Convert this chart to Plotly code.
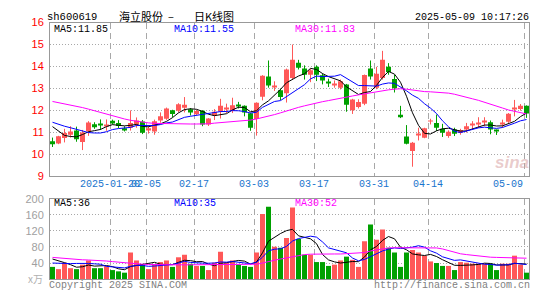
import plotly.graph_objects as go
import pandas as pd

W, H = 545, 300

# ---------------- data ----------------
opens = [10.58, 10.48, 10.73, 10.88, 11.07, 10.55, 11.04, 11.36, 11.33, 11.28,
         11.52, 11.42, 11.18, 11.20, 11.35, 11.48, 11.10, 11.03, 11.53, 11.61,
         12.00, 11.97, 12.11, 12.04, 11.82, 11.98, 11.35, 11.76, 11.94, 12.07,
         11.98, 12.25, 12.20, 11.86, 11.60, 12.62, 13.54, 13.07, 12.91, 12.77,
         13.47, 14.17, 13.90, 13.62, 13.98, 13.60, 13.26, 13.14, 13.03, 13.17,
         12.00, 12.15, 12.30, 13.90, 13.03, 13.47, 13.98, 13.42, 11.79, 10.80,
         10.14, 10.85, 10.74, 11.48, 11.42, 11.15, 10.82, 11.12, 10.97, 11.12,
         11.33, 11.38, 11.46, 11.45, 11.06, 11.37, 11.47, 12.04, 12.05, 12.20]
highs = [10.75, 10.83, 11.15, 11.27, 11.25, 11.10, 11.50, 11.45, 11.58, 11.58,
         11.57, 11.55, 11.27, 11.99, 11.67, 11.55, 11.28, 11.57, 11.90, 12.12,
         12.02, 12.32, 12.60, 12.10, 12.02, 12.00, 11.64, 12.05, 12.52, 12.30,
         12.57, 12.38, 12.22, 11.88, 12.36, 13.60, 14.27, 13.32, 12.99, 13.90,
         15.00, 14.30, 14.05, 13.90, 14.05, 13.68, 13.44, 13.36, 13.40, 13.20,
         12.52, 12.50, 13.63, 14.27, 13.98, 14.71, 14.15, 13.61, 12.20, 11.32,
         10.55, 11.20, 11.20, 11.61, 11.80, 11.38, 11.08, 11.20, 11.15, 11.42,
         11.50, 11.68, 11.68, 11.53, 11.12, 11.57, 11.87, 12.47, 12.28, 12.22]
lows = [10.32, 10.45, 10.53, 10.75, 10.56, 10.18, 10.83, 11.15, 11.10, 11.06,
        11.35, 11.18, 11.03, 11.07, 11.20, 10.91, 10.93, 10.88, 11.43, 11.56,
        11.68, 11.90, 11.90, 11.76, 11.78, 11.27, 11.28, 11.55, 11.62, 11.87,
        11.87, 12.08, 11.72, 11.06, 10.84, 12.45, 13.03, 12.88, 12.46, 12.35,
        13.40, 13.86, 13.40, 13.28, 13.33, 13.18, 13.06, 13.03, 12.95, 11.93,
        11.83, 12.08, 12.23, 13.40, 12.96, 13.40, 13.62, 12.81, 11.64, 10.44,
        9.42, 10.62, 10.72, 11.35, 11.05, 10.78, 10.74, 10.82, 10.88, 10.98,
        11.12, 11.20, 11.27, 10.90, 10.87, 11.20, 11.42, 11.72, 11.98, 11.65]
closes = [10.45, 10.81, 10.96, 11.03, 10.67, 10.98, 11.44, 11.22, 11.30, 11.32,
          11.43, 11.28, 11.10, 11.42, 11.53, 10.97, 11.18, 11.50, 11.72, 12.08,
          11.83, 12.27, 12.25, 11.90, 11.96, 11.35, 11.62, 11.93, 12.20, 12.10,
          12.23, 12.21, 11.90, 11.20, 12.34, 13.57, 13.13, 13.11, 12.60, 13.86,
          14.30, 13.94, 13.62, 13.83, 13.62, 13.36, 13.24, 13.16, 13.32, 12.25,
          12.49, 12.37, 13.61, 13.54, 13.66, 14.30, 13.74, 13.00, 11.68, 10.47,
          10.52, 10.88, 11.18, 11.52, 11.20, 10.97, 11.02, 10.93, 11.10, 11.27,
          11.36, 11.40, 11.48, 11.12, 11.04, 11.39, 11.84, 12.07, 12.20, 11.85]
volumes = [30.4, 24.8, 40.8, 27.2, 24.8, 36.0, 46.4, 27.2, 27.2, 32.0,
           22.5, 19.3, 16.0, 66.2, 46.4, 36.0, 24.8, 35.2, 42.4, 46.4,
           30.4, 54.3, 60.7, 38.0, 32.8, 32.8, 22.5, 40.8, 67.9, 40.8,
           46.4, 36.0, 32.8, 30.4, 66.2, 161.8, 180.2, 80.5, 78.2, 102.0,
           177.8, 99.7, 60.7, 60.7, 42.4, 42.4, 32.8, 36.0, 46.4, 55.9,
           48.0, 30.4, 94.1, 135.5, 98.0, 123.5, 78.2, 66.2, 30.4, 66.2,
           72.6, 66.2, 58.3, 44.0, 40.0, 32.8, 32.8, 22.5, 42.4, 40.8,
           38.4, 38.4, 38.4, 38.4, 22.5, 38.4, 38.4, 58.3, 36.0, 16.0]

# moving-average values before enough in-window history exists
ma5_head = [11.25, 11.05, 10.85, 10.80]
ma10_head = [11.45, 11.35, 11.27, 11.20, 11.12, 11.04, 10.98, 10.96, 10.96]
ma30 = [12.40, 12.35, 12.30, 12.25, 12.19, 12.12, 12.05, 11.97, 11.90, 11.82,
        11.74, 11.66, 11.60, 11.54, 11.49, 11.45, 11.42, 11.40, 11.39, 11.38,
        11.38, 11.38, 11.38, 11.37, 11.37, 11.36, 11.38, 11.41, 11.43, 11.45,
        11.47, 11.49, 11.51, 11.55, 11.60, 11.66, 11.72, 11.80, 11.88, 11.97,
        12.05, 12.13, 12.20, 12.27, 12.33, 12.39, 12.44, 12.50, 12.56, 12.60,
        12.65, 12.70, 12.75, 12.80, 12.84, 12.88, 12.93, 12.96, 12.98, 12.96,
        12.92, 12.88, 12.85, 12.84, 12.83, 12.81, 12.78, 12.73, 12.67, 12.60,
        12.52, 12.45, 12.37, 12.28, 12.20, 12.10, 12.01, 11.95, 11.89, 11.83]
vma5_head = [50.0, 46.0, 41.0, 36.0]
vma10_head = [40.0, 39.0, 38.5, 38.5, 39.0, 39.5, 39.0, 38.0, 37.0]
vma30 = [54.0, 52.5, 51.0, 50.0, 49.0, 48.0, 47.5, 47.0, 46.5, 45.0,
         43.5, 42.0, 40.5, 39.0, 38.0, 37.0, 36.5, 36.0, 36.0, 36.0,
         35.5, 35.5, 35.5, 35.5, 35.5, 35.5, 35.5, 35.5, 35.5, 35.5,
         35.5, 35.5, 35.5, 35.5, 37.0, 40.0, 44.0, 47.0, 50.0, 53.0,
         56.0, 59.0, 61.0, 62.0, 62.5, 62.5, 62.5, 62.5, 62.5, 63.0,
         63.5, 64.0, 66.0, 70.0, 73.0, 76.0, 77.5, 78.0, 78.0, 78.0,
         78.5, 78.5, 78.5, 78.0, 77.5, 75.0, 71.0, 67.0, 63.0, 61.0,
         59.0, 57.0, 55.5, 54.5, 54.0, 53.5, 53.0, 52.5, 52.2, 52.0]

tick_idx = [10, 16, 24, 34, 44, 54, 63, 79]
tick_labels = ["2025-01-20", "02-05", "02-17", "03-03", "03-17", "03-31", "04-14", "05-09"]
price_ticks = [9, 10, 11, 12, 13, 14, 15, 16]
vol_ticks = [40, 80, 120, 160, 200]

title_code = "sh600619"
title_name = "海立股份"
title_dash = "–"
title_kind = "日K线图"
stamp = "2025-05-09 10:17:26"
ma_price_labels = ["MA5:11.85", "MA10:11.55", "MA30:11.83"]
ma_vol_labels = ["MA5:36", "MA10:35", "MA30:52"]

# ---------------- derived ----------------
n = len(closes)
idx = list(range(n))
cs = pd.Series(closes)
vs = pd.Series(volumes)
ma5 = ma5_head + cs.rolling(5).mean().tolist()[4:]
ma10 = ma10_head + cs.rolling(10).mean().tolist()[9:]
vma5 = vma5_head + vs.rolling(5).mean().tolist()[4:]
vma10 = vma10_head + vs.rolling(10).mean().tolist()[9:]

RED = "#FF5858"
GREEN = "#00A000"
up = [c >= o for o, c in zip(opens, closes)]
colors = [RED if u else GREEN for u in up]

MIN_BODY = 0.045  # minimal drawn body height (about one pixel)
body_base = [min(o, c) for o, c in zip(opens, closes)]
body_h = [max(abs(c - o), MIN_BODY) for o, c in zip(opens, closes)]

def fx(px):
    return px / W

def fy(py):
    return 1 - py / H

X0, X1 = 50, 529
P_TOP, P_BOT = 17.3, 177
V_TOP, V_BOT = 200.7, 284.5
XR = [-2.5 / 6, -2.5 / 6 + (X1 - X0) / 6]
grid_x = [i - 2.5 / 6 for i in tick_idx]

fig = go.Figure()

for col, flag in ((RED, True), (GREEN, False)):
    wx, wy = [], []
    for i in idx:
        if up[i] == flag:
            wx += [i, i, None]
            wy += [lows[i], highs[i], None]
    fig.add_trace(go.Scatter(x=wx, y=wy, mode="lines", line=dict(color=col, width=1),
                             hoverinfo="skip", showlegend=False, xaxis="x", yaxis="y"))

fig.add_trace(go.Bar(x=idx, y=body_h, base=body_base, width=5 / 6,
                     marker=dict(color=colors, line=dict(width=0)),
                     showlegend=False, xaxis="x", yaxis="y"))

for vals, col in ((ma5, "#000000"), (ma10, "#0000FF"), (ma30, "#FF00FF")):
    fig.add_trace(go.Scatter(x=idx, y=vals, mode="lines", line=dict(color=col, width=1),
                             showlegend=False, xaxis="x", yaxis="y"))

fig.add_trace(go.Bar(x=idx, y=volumes, width=5 / 6,
                     marker=dict(color=colors, line=dict(width=0)),
                     showlegend=False, xaxis="x2", yaxis="y2"))
for vals, col in ((vma5, "#000000"), (vma10, "#0000FF"), (vma30, "#FF00FF")):
    fig.add_trace(go.Scatter(x=idx, y=vals, mode="lines", line=dict(color=col, width=1),
                             showlegend=False, xaxis="x2", yaxis="y2"))

GRID = "#A8A8A8"
FRAME = "#999999"
MONO = "Liberation Mono"

axis_common = dict(showline=True, mirror=True, linecolor=FRAME, linewidth=1,
                   zeroline=False, ticks="")

fig.update_layout(
    width=W, height=H, autosize=False,
    margin=dict(l=0, r=0, t=0, b=0),
    paper_bgcolor="white", plot_bgcolor="white",
    barmode="overlay", showlegend=False,
    xaxis=dict(domain=[fx(X0), fx(X1)], range=XR, anchor="y",
               tickmode="array", tickvals=grid_x, showticklabels=False,
               showgrid=True, gridcolor=GRID, griddash="6px,4px", gridwidth=1,
               **axis_common),
    yaxis=dict(domain=[fy(P_BOT), fy(P_TOP)], range=[9, 16], anchor="x",
               tickmode="array", tickvals=price_ticks,
               ticktext=[str(t) for t in price_ticks],
               tickfont=dict(family="Liberation Sans", size=11, color="#FF0000"),
               ticklabelstandoff=3,
               showgrid=True, gridcolor=GRID, griddash="1px,2px", gridwidth=1,
               **axis_common),
    xaxis2=dict(domain=[fx(X0), fx(X1)], range=XR, anchor="y2",
                tickmode="array", tickvals=grid_x, showticklabels=False,
                showgrid=True, gridcolor=GRID, griddash="6px,4px", gridwidth=1,
                **axis_common),
    yaxis2=dict(domain=[fy(V_BOT), fy(V_TOP)], range=[0, 200], anchor="x2",
                tickmode="array", tickvals=vol_ticks,
                ticktext=[str(t) for t in vol_ticks],
                tickfont=dict(family="Liberation Sans", size=11, color="#A0A0A0"),
                ticklabelstandoff=3,
                showgrid=True, gridcolor=GRID, griddash="1px,2px", gridwidth=1,
                **axis_common),
)

anns = []

def ann(text, x, y, color="#000000", size=10, family=MONO, xanchor="left", **kw):
    anns.append(dict(text=text, x=fx(x), y=fy(y), xref="paper", yref="paper",
                     showarrow=False, xanchor=xanchor, yanchor="middle",
                     borderpad=0, borderwidth=0,
                     font=dict(family=family, size=size, color=color), **kw))

ann(title_code, 47, 11.5, size=10.5)
ann(title_name, 119, 10.5, size=11, family="Noto Sans CJK SC")
ann(title_dash, 168, 10.5, size=11, family="Noto Sans CJK SC")
ann(title_kind, 194, 10.5, size=11, family="Noto Sans CJK SC")
ann(stamp, 529, 11.5, xanchor="right", size=10)

for t, x, c in zip(ma_price_labels, (54, 174, 295), ("#000000", "#0000FF", "#FF00FF")):
    ann(t, x, 24.5, color=c)
for t, x, c in zip(ma_vol_labels, (54, 174, 295), ("#000000", "#0000FF", "#FF00FF")):
    ann(t, x, 206, color=c)

for i, lab in zip(tick_idx, tick_labels):
    gx = X0 + 6 * i
    if i == tick_idx[-1]:
        ann(lab, 523, 186.3, color="#1874CD", xanchor="right")
    else:
        ann(lab, gx, 186.3, color="#1874CD", xanchor="center")

ann("x万", 28, 284, color="#B0B0B0", size=10, family="Noto Sans CJK SC")
ann("Copyright 2025 SINA.COM", 49, 291.5, color="#808080", size=10)
ann("http://finance.sina.com.cn", 530, 291.5, color="#808080", size=10, xanchor="right")
ann("<i><b>sina</b></i>", 512, 163, color="rgba(215,160,160,0.55)", size=17,
    family="Liberation Sans", xanchor="center")

fig.update_layout(annotations=anns)
fig.write_html("out.html")
